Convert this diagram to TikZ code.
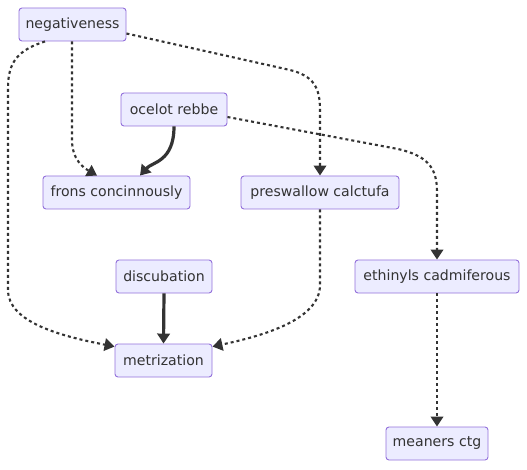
\documentclass[tikz,border=0pt]{standalone}
\usepackage{fontspec}
\setmainfont{DejaVu Sans}
\usetikzlibrary{arrows.meta}
\definecolor{nodefill}{HTML}{ECECFF}
\definecolor{nodeborder}{HTML}{9370DB}
\definecolor{edgecol}{HTML}{333333}
\tikzset{
  box/.style={draw=nodeborder, fill=nodefill, line width=0.9pt, rounded corners=3pt,
    inner sep=0pt, minimum height=33pt, text=edgecol, font=\fontsize{14.1}{16}\selectfont},
  dotedge/.style={draw=edgecol, line width=2.1pt, dash pattern=on 3pt off 3pt,
    -{Triangle[length=10pt,width=12.5pt]}},
  solidedge/.style={draw=edgecol, line width=3.2pt,
    -{Triangle[length=10pt,width=12.5pt]}},
}
\begin{document}
\begin{tikzpicture}[x=1pt,y=-1pt]
\useasboundingbox (0,0) rectangle (527,470);
\node[box, minimum width=107pt] (neg) at (72.5,24.5) {negativeness};
\node[box, minimum width=106pt] (ocelot) at (174,109.5) {ocelot rebbe};
\node[box, minimum width=147pt] (frons) at (116.5,192.5) {frons concinnously};
\node[box, minimum width=158pt] (presw) at (320,192.5) {preswallow calctufa};
\node[box, minimum width=164pt] (ethin) at (437,276.5) {ethinyls cadmiferous};
\node[box, minimum width=96pt] (discub) at (164,276.5) {discubation};
\node[box, minimum width=97pt] (metr) at (163.5,360.5) {metrization};
\node[box, minimum width=102pt] (mean) at (437,443.5) {meaners ctg};

% negativeness -> frons concinnously
\draw[dotedge] ([xshift=-0.5pt]neg.south) -- (72,140)
  .. controls (72,160) and (84,168) .. ([xshift=-19.5pt]frons.north);
% negativeness -> metrization
\draw[dotedge] ([xshift=-27.5pt]neg.south) .. controls (18,50) and (8,62) .. (8,88)
  -- (8,290) .. controls (8,322) and (60,336) .. ([yshift=-3pt]metr.north west);
% negativeness -> preswallow calctufa
\draw[dotedge] ([yshift=-9pt]neg.east) -- (290,70)
  .. controls (314,76) and (320,88) .. (320,110) -- (presw.north);
% ocelot rebbe -> frons concinnously
\draw[solidedge] (ocelot.south) .. controls (174,162) and (152,162) .. ([xshift=23.5pt]frons.north);
% ocelot rebbe -> ethinyls cadmiferous
\draw[dotedge] ([yshift=-7.5pt]ocelot.east) -- (398,149)
  .. controls (428,156) and (437,168) .. (437,192) -- (ethin.north);
% preswallow calctufa -> metrization
\draw[dotedge] (presw.south) -- (320,285)
  .. controls (320,320) and (262,336) .. ([yshift=-3pt]metr.north east);
% discubation -> metrization
\draw[solidedge] (discub.south) -- (metr.north);
% ethinyls cadmiferous -> meaners ctg
\draw[dotedge] (ethin.south) -- (mean.north);
\end{tikzpicture}
\end{document}
